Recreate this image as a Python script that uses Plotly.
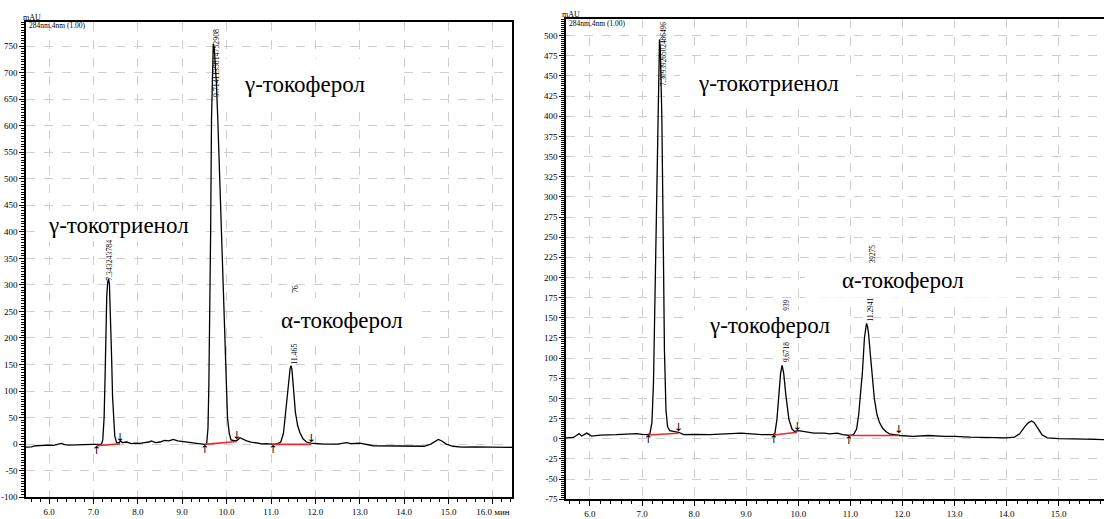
import plotly.graph_objects as go

W, H = 1104, 519

# ---------------- data: left chromatogram ----------------
left_time = [5.48, 5.6, 5.7, 5.8, 5.9, 6.0, 6.1, 6.2, 6.28, 6.35, 6.45, 6.6, 6.8, 7.0, 7.1,
             7.18, 7.21, 7.24, 7.26, 7.28, 7.30, 7.32, 7.34, 7.36, 7.38, 7.39, 7.41, 7.43, 7.45, 7.48, 7.52,
             7.58, 7.61, 7.65,
             7.75, 7.85, 7.95, 8.05, 8.15, 8.25, 8.3, 8.4, 8.5, 8.6, 8.7, 8.8, 8.9, 9.0, 9.1, 9.2, 9.3, 9.4, 9.5,
             9.55, 9.58, 9.60, 9.62, 9.64, 9.66, 9.68, 9.70, 9.72, 9.74, 9.77, 9.80, 9.84, 9.88, 9.92, 9.96,
             9.98, 10.0, 10.02, 10.06, 10.1,
             10.2, 10.25, 10.3, 10.38, 10.45, 10.55, 10.7, 10.8, 10.9, 11.0, 11.1,
             11.15, 11.22, 11.28, 11.33, 11.37, 11.40, 11.43, 11.45, 11.47, 11.49, 11.51, 11.55, 11.6, 11.65,
             11.72, 11.8, 11.9,
             12.0, 12.2, 12.5, 12.7, 12.8, 13.0, 13.3, 13.6, 14.0, 14.45, 14.6, 14.7, 14.77, 14.85, 14.95,
             15.1, 15.3, 15.6, 16.0, 16.43]
left_signal = [-5.5, -5, -3, -2.5, -2, -2, -2.5, -1, 1.5, -1, -2, -1.5, -1, -0.5, -1,
               0, 8, 50, 120, 226, 280, 305, 312, 300, 255, 226, 160, 90, 50, 15, 3,
               3, 6, 3,
               4, 1, 2, 1.5, 3, 4, 6, 3, 4, 7, 6, 9, 6, 5, 4, 2, 1, 0, -0.5,
               0, 30, 110, 226, 400, 615, 720, 754, 748, 725, 680, 615, 510, 400, 300, 226,
               160, 100, 50, 20, 8,
               6, 8, 12, 9, 6, 4, 2, 0.5, 1, 0, 0.5,
               1, 4, 20, 60, 96, 125, 142, 148, 142, 122, 96, 60, 35, 22,
               10, 4, 2,
               1, 0, 0, 3, 1, 2, -3, -3.5, -4, -4, 0, 5, 9, 6, 0,
               -4, -5.5, -5, -5, -6]
left_base_start_t = [7.07, 9.51, 11.05]
left_base_start_v = [-3, -0.5, -0.5]
left_base_end_t = [7.60, 10.23, 11.91]
left_base_end_v = [0.5, 5, -0.5]

# ---------------- data: right chromatogram ----------------
right_time = [5.54, 5.68, 5.74, 5.79, 5.84, 5.94, 6.03, 6.2, 6.5, 6.7, 6.9, 7.0, 7.1,
              7.15, 7.19, 7.22, 7.25, 7.28, 7.30, 7.32, 7.335, 7.35, 7.365, 7.38, 7.405, 7.43, 7.46, 7.49,
              7.53, 7.6, 7.7,
              7.8, 8.0, 8.3, 8.5, 8.7, 8.9, 9.1, 9.3, 9.5,
              9.55, 9.59, 9.63, 9.66, 9.69, 9.72, 9.76, 9.82, 9.88, 9.93, 10.0,
              10.1, 10.3, 10.5, 10.6, 10.75, 10.85, 11.0,
              11.06, 11.12, 11.16, 11.2, 11.23, 11.27, 11.29, 11.31, 11.33, 11.35, 11.39, 11.42, 11.46, 11.51,
              11.56, 11.62, 11.68, 11.75, 11.85, 11.95,
              12.2, 12.5, 12.8, 13.0, 13.3, 13.6, 14.0, 14.15, 14.25, 14.35, 14.42, 14.48, 14.53, 14.58, 14.68,
              14.78, 15.0, 15.5, 15.87]
right_signal = [1, 1.6, 4, 6.3, 3.3, 7, 3.3, 4.5, 5, 5.5, 6.3, 5.5, 5,
                6, 20, 70, 180, 320, 400, 465, 495, 485, 450, 400, 260, 110, 35, 15,
                10, 9, 8,
                5, 5.5, 5, 5.5, 6, 7, 6, 5, 5,
                6, 24, 55, 81, 91, 81, 55, 24, 12, 9, 10,
                9, 7, 7, 6, 7, 5, 4,
                5, 12, 30, 60, 81, 125, 138, 143, 139, 130, 100, 81, 50, 30,
                20, 13, 9, 6, 5, 4,
                3, 4, 3, 3, 2, 1.5, 1, 2, 6, 15, 20, 22, 20, 15, 5,
                1, 0, -0.5, -1]
right_base_start_t = [7.12, 9.53, 10.97]
right_base_start_v = [4.7, 4.7, 4]
right_base_end_t = [7.70, 9.98, 11.93]
right_base_end_v = [6.7, 8, 4]

# tick labels
left_y_ticks = list(range(-100, 751, 50))
right_y_ticks = [v * 25 for v in range(-3, 21)]
x_ticks = [6.0, 7.0, 8.0, 9.0, 10.0, 11.0, 12.0, 13.0, 14.0, 15.0, 16.0]
left_x_ticktext = ["6.0", "7.0", "8.0", "9.0", "10.0", "11.0", "12.0", "13.0", "14.0", "15.0", "16.0 мин"]
right_x_ticktext = ["6.0", "7.0", "8.0", "9.0", "10.0", "11.0", "12.0", "13.0", "14.0", "15.0", "16.0"]

# peak labels (text, x, y) per panel
left_peak_labels = [("7.343243784", 7.37, 347), ("9.7141135814752908", 9.76, 718),
                    ("11.465", 11.54, 170), ("76", 11.54, 292)]
right_peak_labels = [("7.3093926502486496", 7.40, 477), ("9.6718", 9.78, 107), ("939", 9.78, 166),
                     ("11.2941", 11.39, 160), ("39275", 11.42, 229)]

SERIF = "Liberation Serif"
GAMMA = "\u03b3"
ALPHA = "\u03b1"
TOCOPHEROL = "-\u0442\u043e\u043a\u043e\u0444\u0435\u0440\u043e\u043b"
TOCOTRIENOL = "-\u0442\u043e\u043a\u043e\u0442\u0440\u0438\u0435\u043d\u043e\u043b"
# compound names (text, text center px x, px y) and white boxes (x0, y0, x1, y1 in px)
left_names = [(GAMMA + TOCOPHEROL, 304, 86), (GAMMA + TOCOTRIENOL, 118, 229),
              (ALPHA + TOCOPHEROL, 342, 326)]
right_names = [(GAMMA + TOCOTRIENOL, 768, 85), (GAMMA + TOCOPHEROL, 769, 331),
               (ALPHA + TOCOPHEROL, 903, 285)]
white_boxes = [(222, 60, 400, 112), (38, 214, 197, 245), (262, 303, 415, 348),
               (680, 64, 856, 106), (685, 316, 850, 347), (805, 267, 1008, 303)]


def px(x):
    return x / W


def py(y):
    return 1 - y / H


fig = go.Figure()

for t, v, xa, ya in [(left_time, left_signal, "x", "y"), (right_time, right_signal, "x2", "y2")]:
    fig.add_trace(go.Scatter(x=t, y=v, mode="lines", xaxis=xa, yaxis=ya,
                             line=dict(color="black", width=1.3),
                             showlegend=False, hoverinfo="skip"))

for st, sv, et, ev, xa, ya in [
    (left_base_start_t, left_base_start_v, left_base_end_t, left_base_end_v, "x", "y"),
    (right_base_start_t, right_base_start_v, right_base_end_t, right_base_end_v, "x2", "y2"),
]:
    for a, b, c, d in zip(st, sv, et, ev):
        fig.add_trace(go.Scatter(x=[a, c], y=[b, d], mode="lines", xaxis=xa, yaxis=ya,
                                 line=dict(color="rgb(240,40,40)", width=1.6),
                                 showlegend=False, hoverinfo="skip"))
    fig.add_trace(go.Scatter(x=st, y=sv, mode="text", text=["↑"] * len(st), textposition="bottom center",
                             textfont=dict(size=11, color="black", family="DejaVu Sans"),
                             xaxis=xa, yaxis=ya, showlegend=False, hoverinfo="skip"))
    fig.add_trace(go.Scatter(x=et, y=ev, mode="text", text=["↓"] * len(et), textposition="top center",
                             textfont=dict(size=11, color="black", family="DejaVu Sans"),
                             xaxis=xa, yaxis=ya, showlegend=False, hoverinfo="skip"))

shapes = []
for x0, y0, x1, y1 in white_boxes:
    shapes.append(dict(type="rect", xref="paper", yref="paper", x0=px(x0), x1=px(x1), y0=py(y1), y1=py(y0),
                       fillcolor="white", line=dict(width=0), layer="above"))

annotations = []
for labels, xr, yr, size in [(left_peak_labels, "x", "y", 7.8), (right_peak_labels, "x2", "y2", 7.3)]:
    for txt, x, y in labels:
        annotations.append(dict(text=txt, x=x, y=y, xref=xr, yref=yr, showarrow=False, textangle=-90,
                                xanchor="center", yanchor="middle",
                                font=dict(family=SERIF, size=size, color="black")))

for txt, cx, cy in left_names + right_names:
    annotations.append(dict(text=txt, x=px(cx), y=py(cy), xref="paper", yref="paper", showarrow=False,
                            xanchor="center", yanchor="middle",
                            font=dict(family=SERIF, size=23, color="black")))

for txt, x, y, size in [("mAU", 21, 18, 8), ("284nm,4nm (1.00)", 27, 26, 7.5),
                        ("mAU", 560, 15, 8), ("284nm,4nm (1.00)", 567, 24, 7.5)]:
    annotations.append(dict(text=txt, x=px(x), y=py(y), xref="paper", yref="paper", showarrow=False,
                            xanchor="left", yanchor="middle",
                            font=dict(family=SERIF, size=size, color="black")))

grid = dict(showgrid=True, gridcolor="#cfcfcf", griddash="dash", gridwidth=1, zeroline=False,
            showline=True, linecolor="black", linewidth=1.5, ticks="outside", ticklen=5,
            tickcolor="black", tickwidth=1, tickfont=dict(family=SERIF, size=9, color="black"))

fig.update_layout(
    width=W, height=H, margin=dict(l=0, r=0, t=0, b=0),
    paper_bgcolor="white", plot_bgcolor="white",
    xaxis=dict(domain=[px(26), px(512)], range=[5.48, 16.43], anchor="y", mirror=True,
               tickvals=x_ticks, ticktext=left_x_ticktext,
               minor=dict(dtick=0.2, ticklen=3, tickcolor="black", showgrid=False), **grid),
    yaxis=dict(domain=[py(506), py(22)], range=[-100, 796], anchor="x", mirror=True,
               tickvals=left_y_ticks, ticktext=[str(v) for v in left_y_ticks],
               minor=dict(dtick=5, ticklen=3, tickcolor="black", showgrid=False), **grid),
    xaxis2=dict(domain=[px(566), 1.0], range=[5.54, 15.87], anchor="y2", mirror=True,
                tickvals=x_ticks, ticktext=right_x_ticktext,
                minor=dict(dtick=0.2, ticklen=3, tickcolor="black", showgrid=False), **grid),
    yaxis2=dict(domain=[py(508), py(19)], range=[-75, 521], anchor="x2", mirror=False,
                tickvals=right_y_ticks, ticktext=[str(v) for v in right_y_ticks],
                minor=dict(dtick=2.5, ticklen=3, tickcolor="black", showgrid=False), **grid),
    shapes=shapes,
    annotations=annotations,
)

fig.write_html("out.html")
